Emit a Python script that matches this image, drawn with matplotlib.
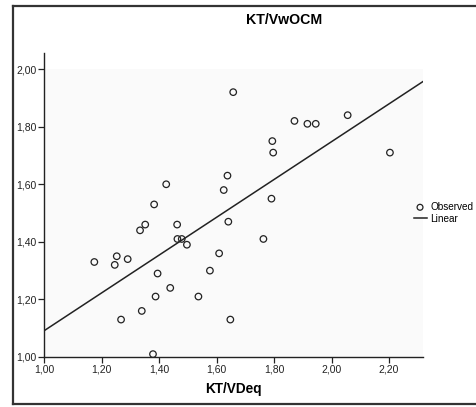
import matplotlib
matplotlib.use("Agg")
import matplotlib.pyplot as plt
from matplotlib.lines import Line2D
from matplotlib.ticker import FuncFormatter
import numpy as np

plt.rcParams['font.family'] = ['Liberation Sans', 'DejaVu Sans']

kt_vdeq = [1.175, 1.246, 1.253, 1.291, 1.268, 1.340, 1.379, 1.388, 1.395, 1.439,
           1.537, 1.577, 1.609, 1.648, 1.658, 1.871, 1.916, 1.945, 2.056, 1.794,
           1.797, 2.203, 1.638, 1.625, 1.791, 1.641, 1.763, 1.425, 1.383, 1.334,
           1.352, 1.463, 1.464, 1.479, 1.497]
kt_vwocm = [1.33, 1.32, 1.35, 1.34, 1.13, 1.16, 1.01, 1.21, 1.29, 1.24,
            1.21, 1.30, 1.36, 1.13, 1.92, 1.82, 1.81, 1.81, 1.84, 1.75,
            1.71, 1.71, 1.63, 1.58, 1.55, 1.47, 1.41, 1.60, 1.53, 1.44,
            1.46, 1.46, 1.41, 1.41, 1.39]

# linear fit line as drawn
fit_intercept = 1.091
fit_slope = 0.657

x_ticks = [1.0, 1.2, 1.4, 1.6, 1.8, 2.0, 2.2]
y_ticks = [1.0, 1.2, 1.4, 1.6, 1.8, 2.0]
x_max = 2.318
y_max = 2.056


def comma(v, pos):
    return f"{v:.2f}".replace('.', ',')


def main():
    W, H = 476, 407
    fig = plt.figure(figsize=(W / 100, H / 100), dpi=100)
    ax = fig.add_axes([44 / W, 50 / H, 379 / W, 304 / H])

    # very light grey data region
    ax.fill_between([x_ticks[0], x_max], y_ticks[0], y_ticks[-1],
                    color='#fafafa', lw=0, zorder=0)

    ax.scatter(kt_vdeq, kt_vwocm, s=22, facecolors='none', edgecolors='#222222',
               linewidths=0.9, label='Observed', zorder=3)
    xs = np.array([x_ticks[0], x_max])
    ax.plot(xs, fit_intercept + fit_slope * (xs - 1.0), color='#222222', lw=1.1,
            label='Linear', zorder=2)

    ax.set_xlim(x_ticks[0], x_max)
    ax.set_ylim(y_ticks[0], y_max)
    ax.set_xticks(x_ticks)
    ax.set_yticks(y_ticks)
    ax.xaxis.set_major_formatter(FuncFormatter(comma))
    ax.yaxis.set_major_formatter(FuncFormatter(comma))
    ax.tick_params(labelsize=7.5, length=4, width=0.9, pad=1.5, colors='#222222')
    for s in ['top', 'right']:
        ax.spines[s].set_visible(False)
    for s in ['left', 'bottom']:
        ax.spines[s].set_color('#222222')
        ax.spines[s].set_linewidth(1.0)
    ax.set_facecolor('white')

    ax.set_xlabel('KT/VDeq', fontsize=9.8, fontweight='bold', labelpad=5)
    fig.text(284 / W, 1 - 20 / H, 'KT/VwOCM', fontsize=10.2, fontweight='bold',
             ha='center', va='center')

    ax.legend(loc='center left', bbox_to_anchor=(0.975, 0.474), frameon=False,
              fontsize=7.2, handlelength=1.3, handletextpad=0.4, borderaxespad=0,
              borderpad=0, labelspacing=0.2, markerscale=0.9)

    # outer frame
    fc = '#333333'
    fig.add_artist(Line2D([13 / W, 1.0], [1 - 6 / H] * 2, color=fc, lw=1.6))
    fig.add_artist(Line2D([13 / W, 1.0], [1 - 404 / H] * 2, color=fc, lw=1.6))
    fig.add_artist(Line2D([13 / W] * 2, [1 - 6 / H, 1 - 404 / H], color=fc, lw=1.6))

    fig.savefig('out.png', dpi=100)


if __name__ == "__main__":
    main()
